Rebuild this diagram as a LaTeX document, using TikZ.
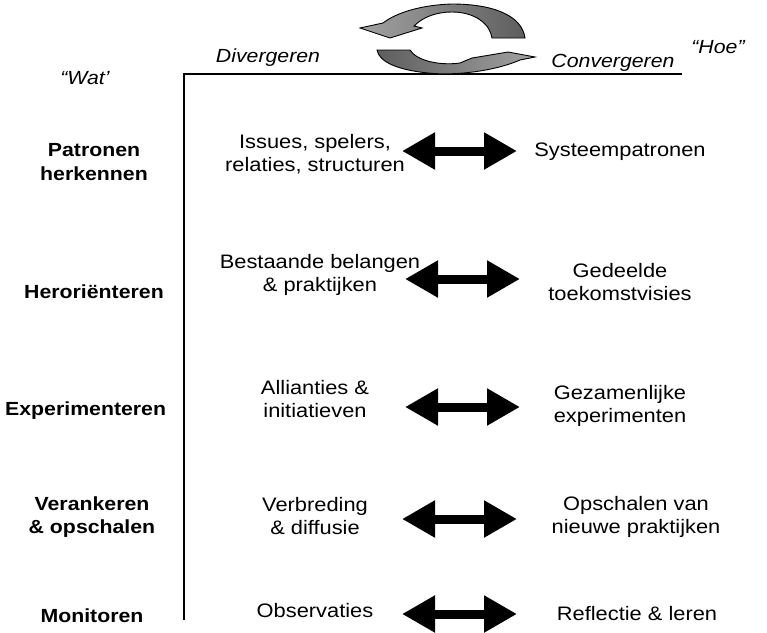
\documentclass[tikz,border=0pt]{standalone}
\usepackage{fontspec}
\setmainfont{Liberation Sans}[FakeStretch=1.12]
\usetikzlibrary{arrows.meta}
\definecolor{cycLight}{HTML}{A2A2A2}
\definecolor{cycDark}{HTML}{5E5E5E}
\begin{document}
\begin{tikzpicture}[x=1pt,y=-1pt,
  lbl/.style={font=\fontsize{19.5}{23.5}\selectfont, align=center, inner sep=0pt},
  boldlbl/.style={lbl, font=\fontsize{19}{23.5}\selectfont\bfseries},
  itallbl/.style={lbl, font=\fontsize{19}{23}\selectfont\itshape},
  dbl/.style={line width=9pt, {Triangle[length=33pt,width=35pt]}-{Triangle[length=33pt,width=35pt]}},
  axisline/.style={line width=1.6pt},
  cyc/.style={draw=black, line width=0.9pt}]
\useasboundingbox (0,0) rectangle (767,632);

% axes
\coordinate (o) at (184,74);
\coordinate (xe) at (682,74);
\coordinate (ye) at (184,620);
\draw[axisline] (xe) -- (o) -- (ye);

% cycle arrows
\shadedraw[cyc, left color=cycLight, right color=cycDark]
  (525,38) .. controls (522,15) and (492,4) .. (452,4)
  .. controls (420,5) and (396,13) .. (383,23)
  -- (360,28) -- (390,38) -- (422,28) -- (414,26)
  .. controls (424,16) and (438,12) .. (452,12)
  .. controls (475,12) and (490,24) .. (492,38) -- cycle;
\shadedraw[cyc, left color=cycDark, right color=cycLight]
  (377,50) -- (410,50)
  .. controls (416,60) and (438,66) .. (460,63)
  -- (472,58) -- (508,52) -- (535,57) -- (520,60)
  .. controls (495,71) and (455,76) .. (428,73)
  .. controls (398,70) and (379,62) .. (377,50) -- cycle;

% top labels
\node[itallbl] (div) at (268,58) {Divergeren};
\node[itallbl] (conv) at (613,63) {Convergeren};
\node[itallbl] (wat) at (85,78) {“Wat’};
\node[itallbl] (hoe) at (718,47) {“Hoe”};

% row 1
\node[boldlbl] (l1) at (94,162) {Patronen\\herkennen};
\node[lbl] (m1) at (315,154) {Issues, spelers,\\relaties, structuren};
\node[lbl] (r1) at (620,152) {Systeempatronen};
\coordinate (a1) at (402,151); \coordinate (b1) at (517,151);
\draw[dbl] (a1) -- (b1);

% row 2
\node[boldlbl] (l2) at (94,292) {Heroriënteren};
\node[lbl] (m2) at (320,275) {Bestaande belangen\\\& praktijken};
\node[lbl] (r2) at (620,282) {Gedeelde\\toekomstvisies};
\coordinate (a2) at (405,279); \coordinate (b2) at (520,279);
\draw[dbl] (a2) -- (b2);

% row 3
\node[boldlbl, anchor=west] (l3) at (5,411) {Experimenteren};
\node[lbl] (m3) at (315,399) {Allianties \&\\initiatieven};
\node[lbl] (r3) at (620,406) {Gezamenlijke\\experimenten};
\coordinate (a3) at (405,407); \coordinate (b3) at (520,407);
\draw[dbl] (a3) -- (b3);

% row 4
\node[boldlbl] (l4) at (92,517) {Verankeren\\\& opschalen};
\node[lbl] (m4) at (315,516) {Verbreding\\\& diffusie};
\node[lbl] (r4) at (636,517) {Opschalen van\\nieuwe praktijken};
\coordinate (a4) at (402,519); \coordinate (b4) at (517,519);
\draw[dbl] (a4) -- (b4);

% row 5
\node[boldlbl] (l5) at (92,616) {Monitoren};
\node[lbl] (m5) at (315,611) {Observaties};
\node[lbl] (r5) at (637,614) {Reflectie \& leren};
\coordinate (a5) at (402,614); \coordinate (b5) at (517,614);
\draw[dbl] (a5) -- (b5);
\end{tikzpicture}
\end{document}
